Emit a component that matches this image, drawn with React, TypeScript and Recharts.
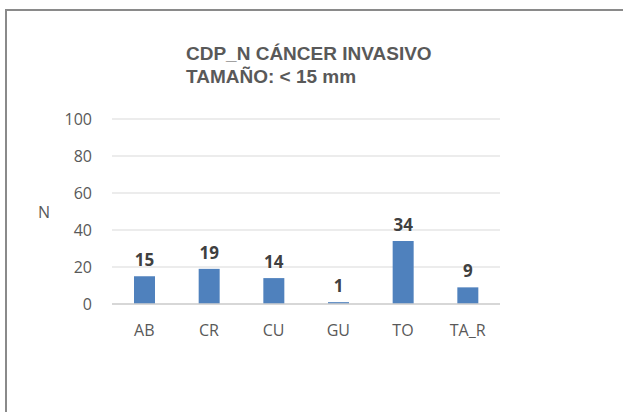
import { BarChart, Bar, XAxis, YAxis, CartesianGrid, LabelList } from "recharts";

const categories = ["AB", "CR", "CU", "GU", "TO", "TA_R"];
const counts = [15, 19, 14, 1, 34, 9];
const yTicks = [0, 20, 40, 60, 80, 100];
const titleLines = ["CDP_N CÁNCER INVASIVO", "TAMAÑO: < 15 mm"];

const data = categories.map((name, i) => ({ name, n: counts[i] }));

const tickFont = { fontFamily: "'Open Sans', sans-serif", fontSize: 16, fill: "#595959" };

export default function App(): JSX.Element {
  return (
    <div style={{ position: "fixed", left: 0, top: 0, width: 700, height: 500, background: "#fff" }}>
      {/* frame: the chart area's top and left edges; right and bottom fall off the picture */}
      <svg width={700} height={500} style={{ position: "absolute", left: 0, top: 0 }}>
        <path d="M6,500 V10 H700" fill="none" stroke="#8a8a8a" strokeWidth={2} />
      </svg>
      <div
        style={{
          position: "absolute",
          left: 186,
          top: 42,
          fontFamily: "'Liberation Sans', Arial, sans-serif",
          fontWeight: "bold",
          fontSize: 19,
          lineHeight: "23px",
          color: "#595959",
          whiteSpace: "pre",
        }}
      >
        {titleLines.join("\n")}
      </div>
      <div
        style={{
          position: "absolute",
          left: 38,
          top: 202,
          fontFamily: "'Open Sans', sans-serif",
          fontSize: 16,
          lineHeight: "20px",
          color: "#595959",
        }}
      >
        N
      </div>
      <div style={{ position: "absolute", left: 0, top: 0 }}>
        <BarChart
          width={623}
          height={412}
          data={data}
          margin={{ top: 119, right: 123, bottom: 78, left: 52 }}
        >
          <CartesianGrid vertical={false} stroke="#d9d9d9" />
          <XAxis
            dataKey="name"
            height={30}
            tickLine={false}
            tickSize={0}
            tickMargin={21}
            axisLine={{ stroke: "#d0d0d0", strokeWidth: 1.5 }}
            tick={tickFont}
          />
          <YAxis
            width={60}
            domain={[0, 100]}
            ticks={yTicks}
            tickLine={false}
            tickSize={0}
            tickMargin={20}
            axisLine={false}
            tick={tickFont}
          />
          <Bar dataKey="n" fill="#4f81bd" barSize={21} isAnimationActive={false}>
            <LabelList
              dataKey="n"
              position="top"
              offset={10}
              style={{
                fontFamily: "'Open Sans', sans-serif",
                fontWeight: "bold",
                fontSize: 17,
                fill: "#404040",
              }}
            />
          </Bar>
        </BarChart>
      </div>
    </div>
  );
}
